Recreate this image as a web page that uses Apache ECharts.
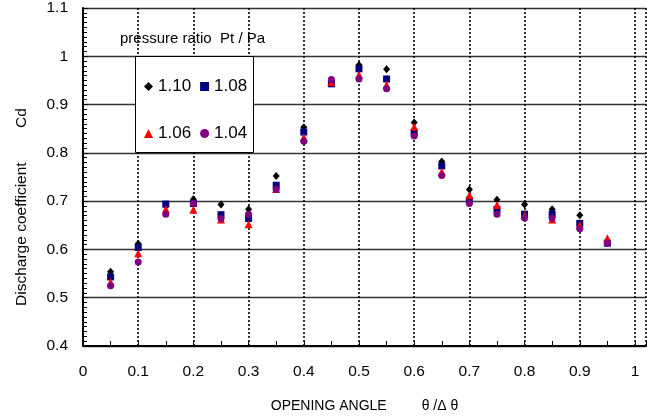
<!DOCTYPE html>
<html><head><meta charset="utf-8">
<script src="https://cdn.jsdelivr.net/npm/echarts@6/dist/echarts.min.js"></script>
<style>html,body{margin:0;padding:0;background:#fff}#c{width:647px;height:418px}</style>
</head><body><div id="c"></div>
<script>
var openingAngle = [0.05,0.1,0.15,0.2,0.25,0.3,0.35,0.4,0.45,0.5,0.55,0.6,0.65,0.7,0.75,0.8,0.85,0.9,0.95];
var cd110 = [0.554,0.612,0.690,0.704,0.693,0.683,0.752,0.853,0.948,0.982,0.973,0.863,0.782,0.724,0.703,0.693,0.683,0.671,null];
var cd108 = [0.543,0.604,0.694,0.695,0.672,0.664,0.733,0.843,0.943,0.974,0.953,0.842,0.773,0.702,0.683,0.673,0.673,0.654,0.613];
var cd106 = [0.532,0.592,0.683,0.682,0.662,0.652,0.725,0.832,0.947,0.962,0.941,0.854,0.761,0.712,0.692,0.671,0.662,0.650,0.623];
var cd104 = [0.525,0.574,0.673,0.695,0.664,0.673,0.724,0.824,0.952,0.953,0.933,0.835,0.753,0.695,0.673,0.665,0.665,0.643,0.613];

function pairs(ys){ var out=[]; for(var i=0;i<openingAngle.length;i++){ if(ys[i]!=null) out.push([openingAngle[i],ys[i]]); } return out; }

var FONT = 'Liberation Sans, Arial, sans-serif';
var chart = echarts.init(document.getElementById('c'), null, {renderer:'canvas'});
chart.setOption({
  animation:false,
  backgroundColor:'#fff',
  textStyle:{fontFamily:FONT},
  grid:{left:83, right:1, top:8, bottom:66},
  title:{text:'pressure ratio  Pt / Pa', left:115, top:26, textStyle:{fontSize:15, fontWeight:'normal', color:'#000', fontFamily:FONT}},
  graphic:[
    {type:'rect', left:135, top:56, shape:{width:118, height:96}, style:{fill:'#fff', stroke:'#000', lineWidth:1}, z:50},
    {type:'text', x:22, y:207, rotation:Math.PI/2, z:50,
     style:{text:'Discharge coefficient        Cd', fontSize:15.5, fontFamily:FONT, fill:'#000', align:'center', verticalAlign:'middle'}}
  ],
  legend:[
    {data:['1.10','1.08'], left:139, top:73, itemWidth:9, itemHeight:9, itemGap:9, z:60,
     textStyle:{fontSize:17, color:'#000', fontFamily:FONT}},
    {data:['1.06','1.04'], left:139, top:120, itemWidth:9, itemHeight:9, itemGap:9, z:60,
     textStyle:{fontSize:17, color:'#000', fontFamily:FONT}}
  ],
  xAxis:{type:'value', min:0, max:1.02, interval:0.1,
    name:'OPENING ANGLE         θ /Δ θ', nameLocation:'middle', nameGap:53,
    nameTextStyle:{fontSize:14, color:'#000', fontFamily:'Liberation Sans Narrow, Liberation Sans, sans-serif'},
    axisLine:{show:true, onZero:false, lineStyle:{color:'#000', width:2}},
    axisTick:{show:true, inside:true, length:5, lineStyle:{color:'#000'}},
    minorTick:{show:true, splitNumber:2, length:5, lineStyle:{color:'#000'}},
    axisLabel:{fontSize:15.5, color:'#000', margin:18, showMaxLabel:false,
      formatter:function(v){ return Math.abs(v*10-Math.round(v*10))<1e-6 ? String(Math.round(v*10)/10) : ''; }},
    splitLine:{show:true, lineStyle:{color:'#000', type:[2,2], width:1.6}}
  },
  yAxis:{type:'value', min:0.4, max:1.1, interval:0.1,
    axisLine:{show:true, lineStyle:{color:'#000', width:2}},
    axisTick:{show:true, inside:true, length:5, lineStyle:{color:'#000'}},
    minorTick:{show:true, splitNumber:10, length:4, lineStyle:{color:'#000'}},
    axisLabel:{fontSize:15.5, color:'#000', margin:15,
      formatter:function(v){ return String(Math.round(v*10)/10); }},
    splitLine:{show:true, lineStyle:{color:'#333', width:1.3}}
  },
  series:[
    {name:'1.10', type:'scatter', data:pairs(cd110), symbol:'diamond', symbolSize:[7,8], itemStyle:{color:'#000', opacity:1}},
    {name:'1.08', type:'scatter', data:pairs(cd108), symbol:'rect', symbolSize:7, itemStyle:{color:'#000080', opacity:1}},
    {name:'1.06', type:'scatter', data:pairs(cd106), symbol:'triangle', symbolSize:8, itemStyle:{color:'#ff0000', opacity:1}},
    {name:'1.04', type:'scatter', data:pairs(cd104), symbol:'circle', symbolSize:7, itemStyle:{color:'#800080', opacity:1}}
  ]
});
</script></body></html>
